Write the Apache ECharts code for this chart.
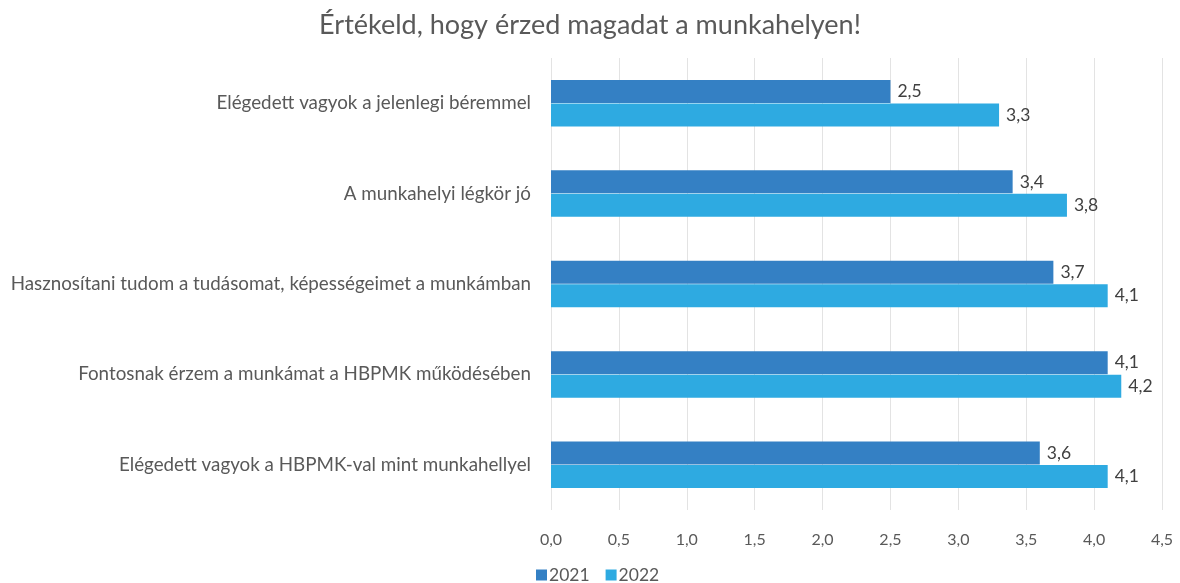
<!DOCTYPE html>
<html>
<head>
<meta charset="utf-8">
<script src="https://cdn.jsdelivr.net/npm/echarts@6/dist/echarts.min.js"></script>
<style>
  html, body { margin: 0; padding: 0; background: #fff; }
  #main { width: 1180px; height: 583px; }
</style>
</head>
<body>
<div id="main"></div>
<script>
var categories = [
    'Elégedett vagyok a jelenlegi béremmel',
    'A munkahelyi légkör jó',
    'Hasznosítani tudom a tudásomat, képességeimet a munkámban',
    'Fontosnak érzem a munkámat a HBPMK működésében',
    'Elégedett vagyok a HBPMK-val mint munkahellyel'
];
var values2021 = [2.5, 3.4, 3.7, 4.1, 3.6];
var values2022 = [3.3, 3.8, 4.1, 4.2, 4.1];

function comma(v) {
    return Number(v).toFixed(1).replace('.', ',');
}

var chart = echarts.init(document.getElementById('main'));
var font = 'Lato, "Open Sans", sans-serif';

chart.setOption({
    animation: false,
    textStyle: { fontFamily: font },
    title: {
        text: 'Értékeld, hogy érzed magadat a munkahelyen!',
        left: 'center',
        top: 7,
        textStyle: { fontFamily: font, fontSize: 27, fontWeight: 'normal', color: '#595959' }
    },
    legend: {
        data: ['2021', '2022'],
        left: 531,
        top: 561,
        itemWidth: 11,
        itemHeight: 11,
        itemGap: 16,
        icon: 'rect',
        textStyle: { fontFamily: font, fontSize: 17.5, color: '#595959', padding: [0, 0, 0, -3] }
    },
    grid: { left: 551, right: 18, top: 58, bottom: 73 },
    xAxis: {
        type: 'value',
        min: 0,
        max: 4.5,
        interval: 0.5,
        axisLine: { show: false },
        axisTick: { show: false },
        splitLine: { lineStyle: { color: '#e3e3e3', width: 1 } },
        axisLabel: {
            fontFamily: font, fontSize: 16, color: '#595959', margin: 22,
            formatter: comma
        }
    },
    yAxis: {
        type: 'category',
        inverse: true,
        data: categories,
        axisLine: { show: false },
        axisTick: { show: false },
        axisLabel: { fontFamily: font, fontSize: 18.8, color: '#595959', margin: 20 }
    },
    series: [{
        name: '2021',
        type: 'bar',
        data: values2021,
        barWidth: 23,
        barGap: '2%',
        itemStyle: { color: '#3480c4' },
        label: {
            show: true, position: 'right', distance: 7,
            fontFamily: font, fontSize: 17.5, color: '#404040',
            formatter: function (p) { return comma(p.value); }
        }
    }, {
        name: '2022',
        type: 'bar',
        data: values2022,
        barWidth: 23,
        itemStyle: { color: '#2eaae1' },
        label: {
            show: true, position: 'right', distance: 7,
            fontFamily: font, fontSize: 17.5, color: '#404040',
            formatter: function (p) { return comma(p.value); }
        }
    }]
});
</script>
</body>
</html>
